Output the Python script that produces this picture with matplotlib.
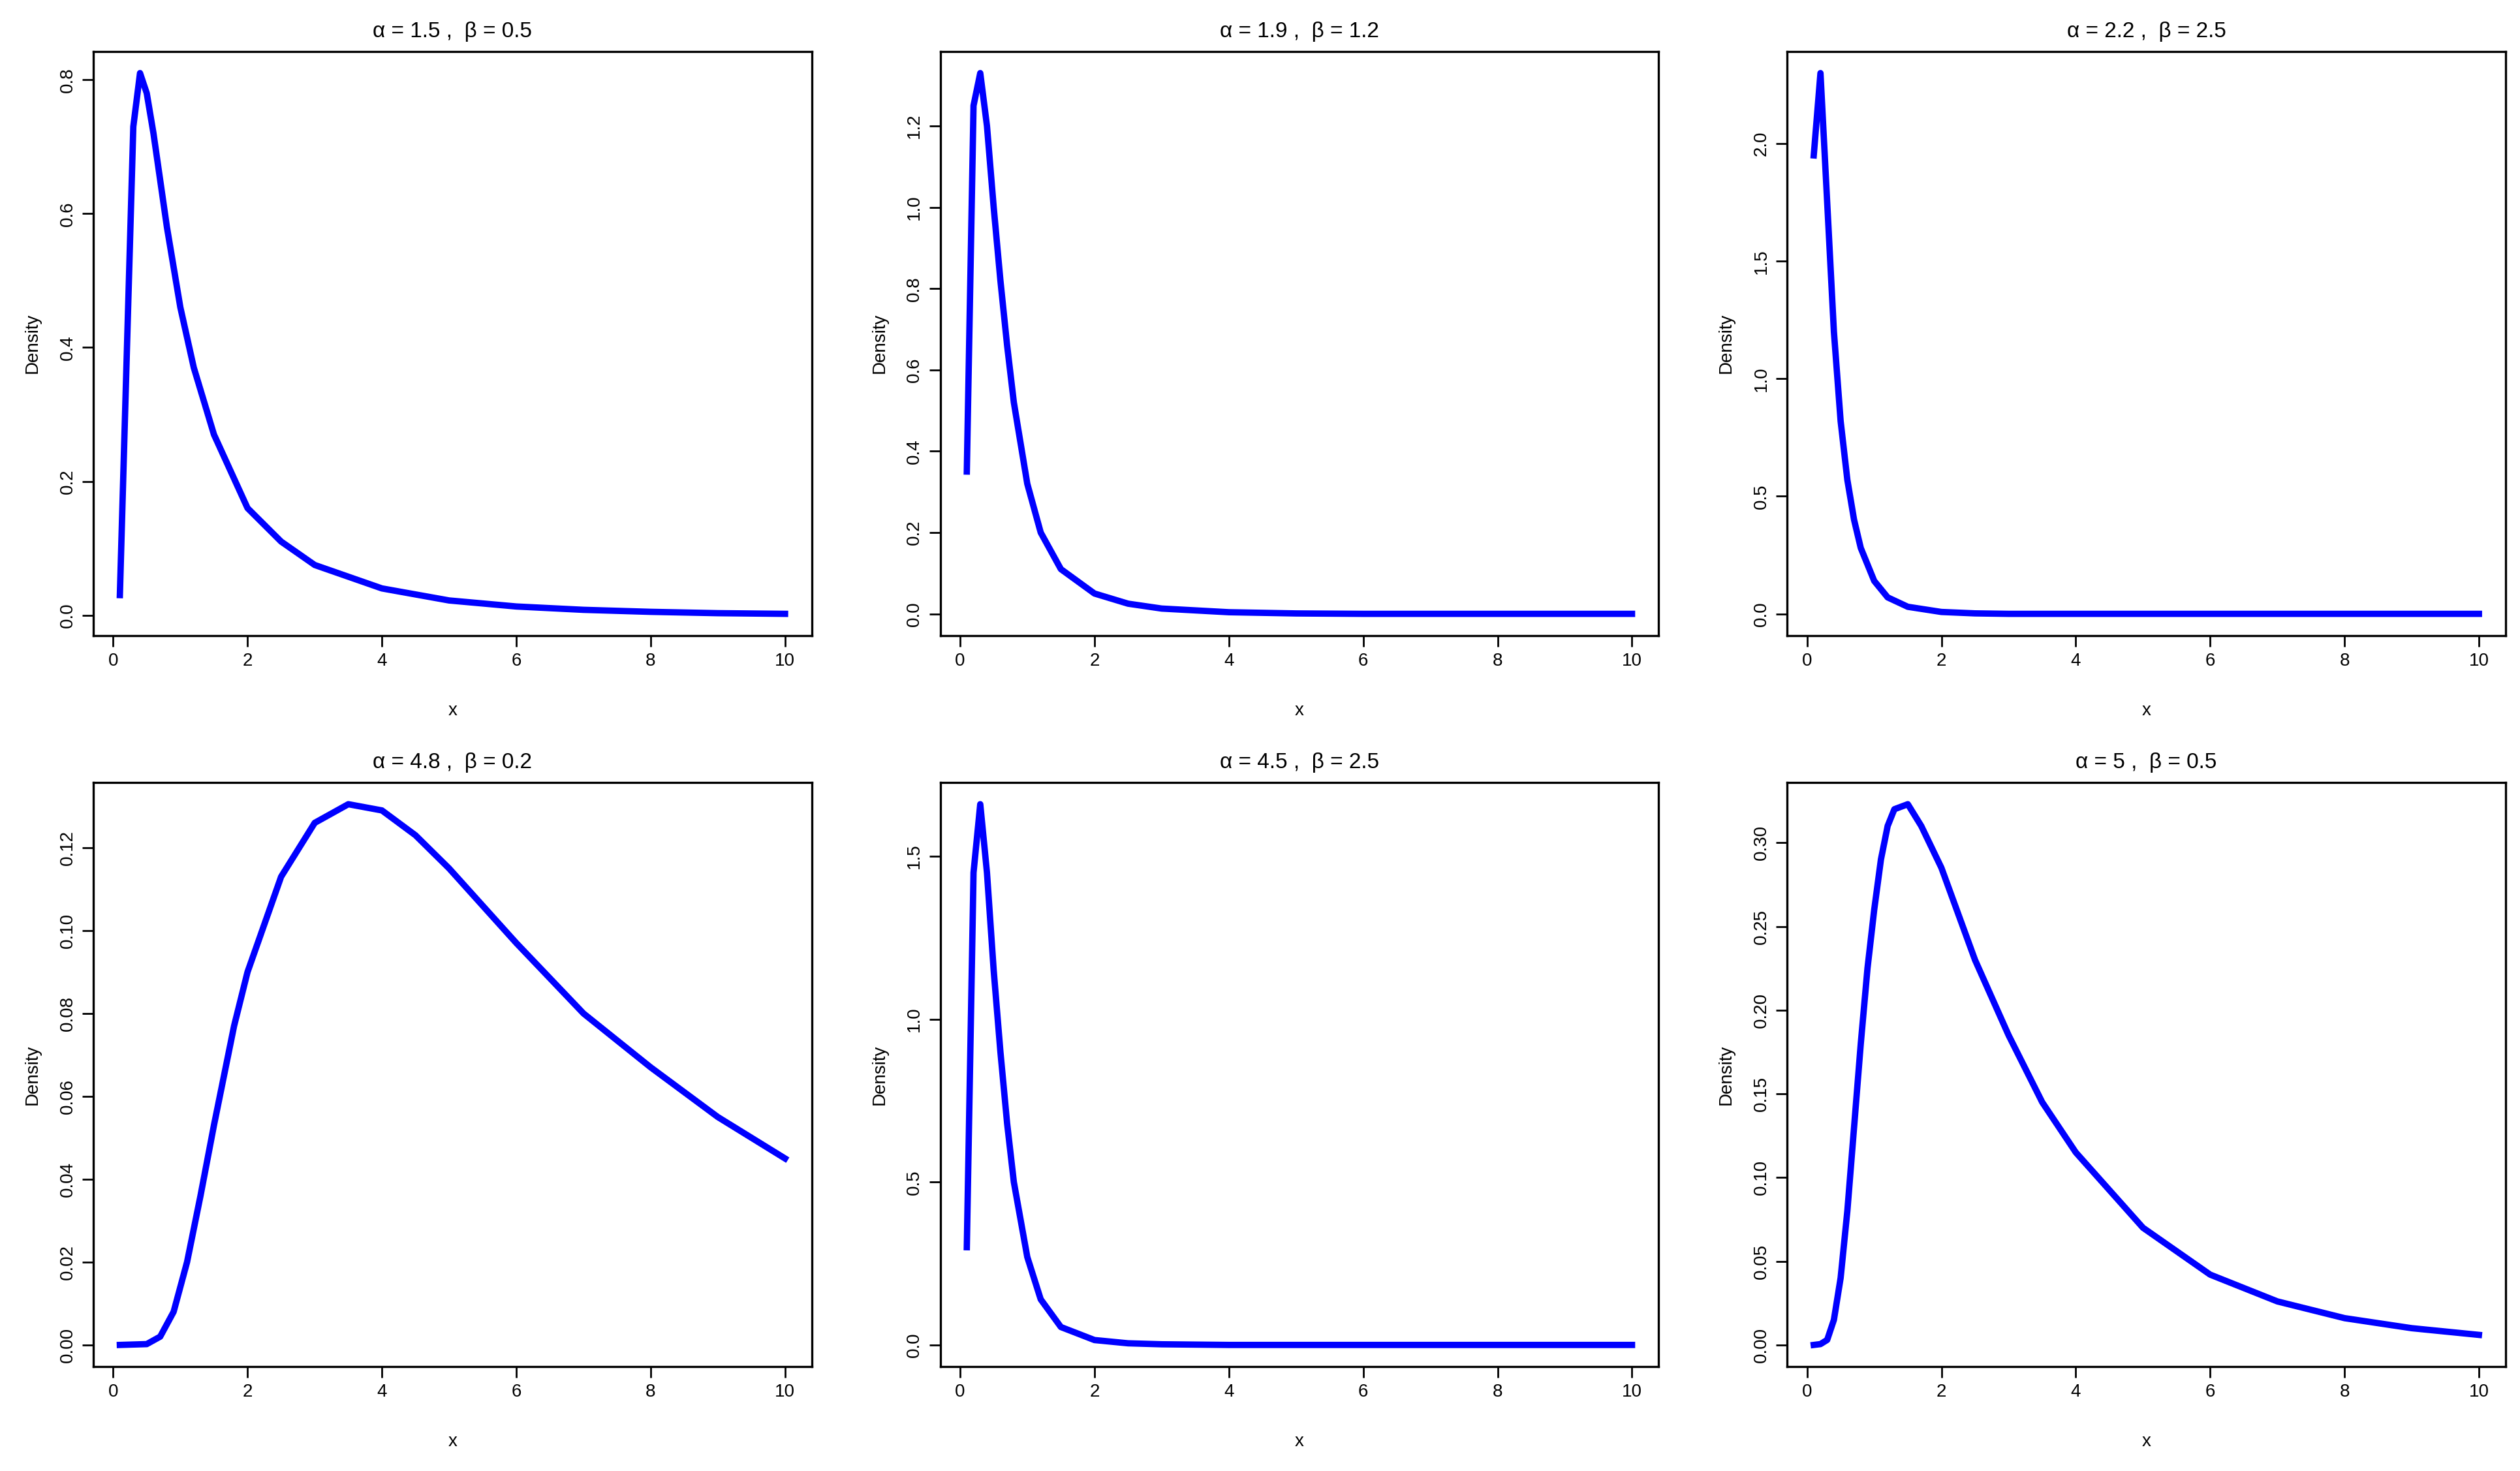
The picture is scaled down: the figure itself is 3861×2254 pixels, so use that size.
import matplotlib.pyplot as plt

plt.rcParams['font.family'] = ['Liberation Sans', 'DejaVu Sans']

titles = [r"$\alpha = 1.5$ ,  $\beta = 0.5$", r"$\alpha = 1.9$ ,  $\beta = 1.2$",
          r"$\alpha = 2.2$ ,  $\beta = 2.5$", r"$\alpha = 4.8$ ,  $\beta = 0.2$",
          r"$\alpha = 4.5$ ,  $\beta = 2.5$", r"$\alpha = 5$ ,  $\beta = 0.5$"]
titles = ["α = 1.5 ,  β = 0.5", "α = 1.9 ,  β = 1.2", "α = 2.2 ,  β = 2.5",
          "α = 4.8 ,  β = 0.2", "α = 4.5 ,  β = 2.5", "α = 5 ,  β = 0.5"]

x1 = [0.1, 0.3, 0.4, 0.5, 0.6, 0.8, 1.0, 1.2, 1.5, 2, 2.5, 3, 4, 5, 6, 7, 8, 9, 10]
y1 = [0.03, 0.73, 0.81, 0.78, 0.72, 0.58, 0.46, 0.37, 0.27, 0.16, 0.11, 0.075, 0.04,
      0.022, 0.013, 0.008, 0.005, 0.003, 0.002]
x2 = [0.1, 0.2, 0.3, 0.4, 0.5, 0.6, 0.7, 0.8, 1.0, 1.2, 1.5, 2, 2.5, 3, 4, 5, 6, 10]
y2 = [0.35, 1.25, 1.33, 1.2, 1.0, 0.82, 0.66, 0.52, 0.32, 0.2, 0.11, 0.05, 0.025,
      0.013, 0.004, 0.001, 0, 0]
x3 = [0.1, 0.2, 0.3, 0.4, 0.5, 0.6, 0.7, 0.8, 1.0, 1.2, 1.5, 2, 2.5, 3, 10]
y3 = [1.95, 2.3, 1.75, 1.2, 0.82, 0.57, 0.4, 0.28, 0.14, 0.07, 0.03, 0.008, 0.002, 0, 0]
x4 = [0.1, 0.5, 0.7, 0.9, 1.1, 1.3, 1.5, 1.8, 2, 2.5, 3, 3.5, 4, 4.5, 5, 6, 7, 8, 9, 10]
y4 = [0, 0.0002, 0.002, 0.008, 0.02, 0.036, 0.053, 0.077, 0.09, 0.113, 0.126, 0.1305,
      0.129, 0.123, 0.115, 0.097, 0.08, 0.067, 0.055, 0.045]
x5 = [0.1, 0.2, 0.3, 0.4, 0.5, 0.6, 0.7, 0.8, 1.0, 1.2, 1.5, 2, 2.5, 3, 4, 10]
y5 = [0.3, 1.45, 1.66, 1.45, 1.15, 0.9, 0.68, 0.5, 0.27, 0.14, 0.055, 0.015, 0.005,
      0.002, 0, 0]
x6 = [0.1, 0.2, 0.3, 0.4, 0.5, 0.6, 0.7, 0.8, 0.9, 1.0, 1.1, 1.2, 1.3, 1.5, 1.7, 2,
      2.5, 3, 3.5, 4, 5, 6, 7, 8, 9, 10]
y6 = [0, 0.0005, 0.003, 0.015, 0.04, 0.08, 0.13, 0.18, 0.225, 0.26, 0.29, 0.31, 0.32,
      0.323, 0.31, 0.285, 0.23, 0.185, 0.145, 0.115, 0.07, 0.042, 0.026, 0.016, 0.01,
      0.006]

xs = [x1, x2, x3, x4, x5, x6]
ys = [y1, y2, y3, y4, y5, y6]
yticks = [[0, 0.2, 0.4, 0.6, 0.8], [0, 0.2, 0.4, 0.6, 0.8, 1.0, 1.2],
          [0, 0.5, 1.0, 1.5, 2.0], [0, 0.02, 0.04, 0.06, 0.08, 0.10, 0.12],
          [0, 0.5, 1.0, 1.5], [0, 0.05, 0.10, 0.15, 0.20, 0.25, 0.30]]
yfmt = ["%.1f", "%.1f", "%.1f", "%.2f", "%.1f", "%.2f"]

fig = plt.figure(figsize=(19.31, 11.27), dpi=200)
lefts = [0.037, 0.373, 0.709]
bottoms = [0.568, 0.071]
for i in range(6):
    ax = fig.add_axes([lefts[i % 3], bottoms[i // 3], 0.285, 0.397])
    ax.plot(xs[i], ys[i], color='blue', lw=3.5)
    lo, hi = min(ys[i]), max(ys[i])
    pad = 0.04 * (hi - lo)
    ax.set_ylim(lo - pad, hi + pad)
    ax.set_xlim(0.1 - 0.04 * 9.9, 10 + 0.04 * 9.9)
    ax.set_xticks([0, 2, 4, 6, 8, 10])
    ax.set_yticks(yticks[i])
    ax.set_yticklabels([yfmt[i] % v for v in yticks[i]], rotation=90, va='center')
    ax.tick_params(direction='out', length=6, labelsize=10, width=1)
    ax.set_title(titles[i], fontsize=12, pad=8)
    ax.set_xlabel("x", fontsize=10, labelpad=18)
    ax.set_ylabel("Density", fontsize=10, labelpad=10)
    for s in ax.spines.values():
        s.set_linewidth(1.2)

fig.savefig("out.png", dpi=200)
